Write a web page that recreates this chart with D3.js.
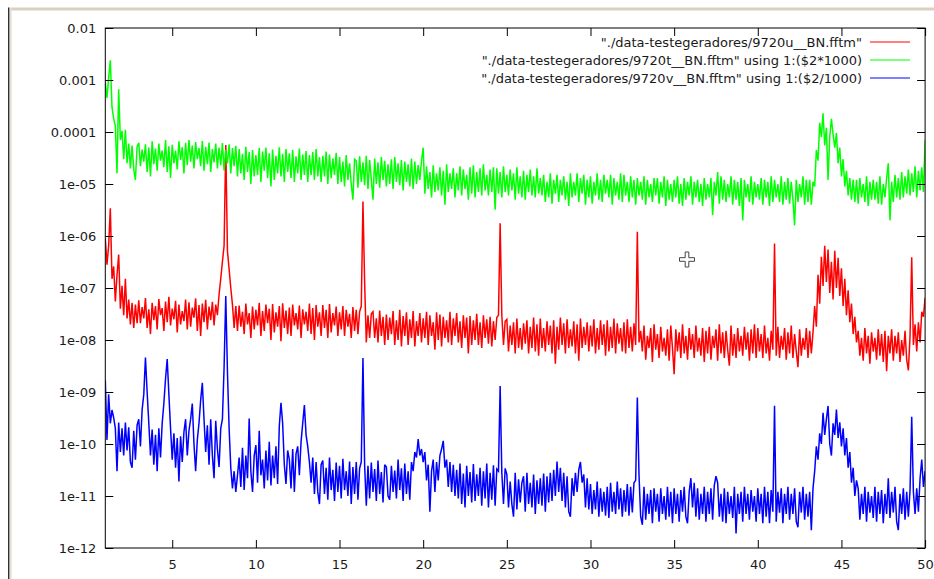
<!DOCTYPE html>
<html>
<head>
<meta charset="utf-8">
<script src="https://cdn.jsdelivr.net/npm/d3@7"></script>
<style>
  html, body { margin: 0; padding: 0; background: #fff; }
  svg { display: block; font-family: "DejaVu Sans", sans-serif; }
</style>
</head>
<body>
<svg id="chart" width="934" height="579"></svg>
<script>
// Spectra sampled every 0.1 from 1.0 to 50.0
const freqStart = 1.0;
const freqStep = 0.1;

const xTicks = [5, 10, 15, 20, 25, 30, 35, 40, 45, 50];
const yTicks = [1e-2, 1e-3, 1e-4, 1e-5, 1e-6, 1e-7, 1e-8, 1e-9, 1e-10, 1e-11, 1e-12];
const yTickLabels = ["0.01", "0.001", "0.0001", "1e-05", "1e-06", "1e-07", "1e-08", "1e-09", "1e-10", "1e-11", "1e-12"];

const seriesNames = [
  "\"./data-testegeradores/9720u__BN.fftm\"",
  "\"./data-testegeradores/9720t__BN.fftm\" using 1:($2*1000)",
  "\"./data-testegeradores/9720v__BN.fftm\" using 1:($2/1000)"
];
const seriesColors = ["#ff0000", "#00ff00", "#0000ff"];

// 9720u, values in units of 1e-9
const uUnit = 1e-9;
const uValues = [
  900, 280, 650, 3400, 150, 260, 55, 180, 440, 40,
  110, 30, 150, 26, 60, 20, 52, 17, 48, 21,
  58, 21, 43, 26, 64, 17, 39, 13, 52, 24,
  45, 16, 61, 30, 41, 15, 55, 22, 68, 19,
  40, 25, 57, 14, 48, 20, 36, 23, 60, 16,
  53, 18, 42, 27, 63, 15, 47, 12, 50, 22,
  59, 16, 44, 24, 54, 19, 48, 30, 75, 150,
  320, 650, 56000, 520, 230, 100, 48, 17, 45, 15,
  46, 18, 35, 13, 50, 20, 33, 11, 44, 16,
  38, 19, 52, 12, 36, 15, 48, 21, 40, 10,
  49, 14, 34, 18, 45, 9.5, 51, 17, 37, 13,
  42, 12, 48, 19, 33, 16, 46, 11, 39, 20,
  35, 15, 50, 13, 41, 10, 47, 18, 34, 12,
  47, 17, 38, 11, 49, 14, 33, 19, 44, 12,
  34, 16, 45, 12, 38, 18, 32, 11, 43, 15,
  38, 13, 35, 45, 4600, 130, 9, 30, 11, 32,
  35, 11, 26, 9, 37, 12, 28, 8, 31, 10,
  27, 13, 36, 8, 24, 10, 38, 7.5, 29, 12,
  34, 8, 25, 11, 36, 7.5, 23, 12, 33, 9,
  26, 11, 35, 8, 30, 12, 22, 6.5, 34, 10,
  31, 7.5, 28, 11, 24, 9, 35, 8, 26, 12,
  33, 9, 23, 7, 30, 11, 27, 5.5, 29, 8,
  24, 10, 32, 8, 22, 7, 30, 11, 25, 8.5,
  28, 7.5, 23, 10, 27, 30, 1750, 30, 8, 23,
  25, 6, 19, 8, 22, 5.5, 26, 7, 17, 6.5,
  21, 8.5, 24, 5.5, 18, 7, 27, 6, 20, 5,
  26, 7, 17, 6, 23, 8, 19, 5.5, 24, 3.5,
  18, 6.5, 27, 8, 21, 5.5, 25, 7, 16, 7.5,
  23, 5.5, 20, 4, 26, 7, 18, 8, 22, 6,
  19, 7.5, 25, 5.5, 17, 6.5, 24, 8, 20, 5,
  24, 6, 18, 7, 26, 5.5, 21, 8.5, 17, 6,
  22, 5.5, 25, 7, 18, 6, 21, 8, 1200, 9,
  15, 6, 19, 4.2, 12, 7, 17, 3.8, 20, 6.5,
  13, 4.5, 18, 6, 11, 5, 16, 4, 19, 7,
  2.2, 16, 6, 14, 4.5, 20, 5.5, 12, 4.2, 17,
  6.5, 13, 4.5, 19, 6, 11, 5, 17, 3.8, 15,
  5.5, 18, 4.2, 12, 7, 16, 4, 20, 5.5, 14,
  4.5, 15, 6.5, 3.2, 19, 5, 13, 4.5, 17, 6,
  12, 5, 18, 6.5, 14, 4, 16, 5.5, 20, 4.5,
  17, 6, 13, 4.5, 19, 5.5, 11, 4, 15, 6.5,
  720, 5, 18, 4.5, 12, 6.5, 17, 4.2, 14, 5.5,
  19, 4.5, 13, 6, 3, 16, 5, 11, 6.5, 17,
  4.5, 15, 5.5, 14, 45, 18, 180, 50, 400, 110,
  650, 130, 550, 80, 320, 60, 520, 100, 380, 70,
  240, 45, 150, 30, 90, 22, 50, 13, 28, 9,
  15, 5, 11, 4, 17, 5.5, 12, 3.5, 14, 6,
  11, 4.2, 16, 5, 13, 3.8, 15, 2.5, 12, 5.5,
  16, 4, 12, 5.5, 14, 3.8, 10, 5, 15, 4.2,
  2.6, 12, 390, 8, 20, 6, 22, 9, 35, 28,
  65
];

// 9720t scaled by 1000, values in units of 1e-6
const tUnit = 1e-6;
const tValues = [
  900, 450, 1100, 2400, 300, 180, 130, 16, 660, 70,
  105, 30, 110, 25, 60, 20, 55, 19, 12, 52,
  62, 22, 46, 27, 58, 17, 50, 14, 66, 24,
  48, 18, 60, 28, 44, 21, 70, 17, 53, 13,
  57, 25, 44, 19, 66, 29, 51, 16, 62, 23,
  70, 27, 55, 20, 64, 30, 49, 22, 67, 18,
  52, 24, 63, 17, 47, 26, 60, 20, 50, 23,
  61, 18, 45, 25, 58, 16, 49, 22, 54, 14,
  47, 16, 38, 12, 52, 17, 41, 10, 45, 14,
  36, 15, 49, 11, 42, 18, 50, 13, 39, 9,
  46, 12, 35, 16, 51, 14, 38, 11, 47, 17,
  39, 13, 45, 11, 34, 16, 48, 12, 37, 15,
  43, 11, 36, 15, 41, 12, 47, 14, 33, 11,
  35, 14, 42, 10, 37, 13, 31, 15, 40, 10,
  33, 11, 27, 9, 36, 12, 25, 10, 5, 30,
  28, 8.5, 34, 11, 26, 9.5, 35, 8, 29, 12,
  5, 31, 10, 26, 8.5, 33, 12, 28, 9, 24,
  10, 30, 8, 33, 11, 25, 9.5, 29, 7.5, 27,
  11, 24, 9, 31, 8, 27, 10, 23, 12, 28,
  50, 6.5, 22, 8, 17, 5.5, 23, 7, 16, 7.5,
  21, 6, 18, 4, 24, 7, 16, 8, 20, 5.5,
  16, 7.5, 22, 6, 19, 8, 15, 5, 21, 6.5,
  23, 5.5, 17, 7, 20, 6, 24, 7.5, 15, 6,
  19, 7, 21, 3.2, 20, 6.5, 17, 5.5, 22, 7,
  15, 6, 19, 7.5, 16, 5, 21, 6.5, 14, 5.5,
  18, 5, 15, 7, 19, 6, 14, 5.5, 20, 6.5,
  13, 6, 15, 4.5, 11, 5.5, 16, 4.2, 12, 6.5,
  15, 4.5, 12, 6, 14, 5, 11, 3.8, 16, 5.5,
  11, 6, 16, 4.5, 13, 6.5, 15, 4, 12, 5.5,
  14, 4.2, 11, 6, 16, 5, 12, 4.5, 15, 6.5,
  12, 5.5, 15, 4, 13, 6, 11, 5, 16, 4.5,
  15, 6, 11, 4.5, 14, 5.5, 12, 4, 13, 6,
  11, 5, 14, 4, 12, 5.5, 10, 4.5, 13, 6,
  13, 4.2, 11, 5.5, 14, 3.8, 12, 5, 10, 4.5,
  12, 5.5, 14, 4.2, 10, 3.8, 13, 5, 11, 6,
  14, 4, 11, 5.5, 12, 4.5, 10, 3.8, 13, 5,
  10, 5.5, 13, 2.5, 11, 6, 17, 4.2, 14, 5,
  12, 4.5, 10, 5.5, 14, 4, 12, 5, 11, 3.8,
  13, 2, 12, 5.5, 10, 4.5, 14, 4, 11, 5.5,
  10, 5, 13, 4, 12, 5.5, 11, 3.8, 14, 4.5,
  12, 5.5, 10, 4.5, 14, 4, 11, 5, 13, 4.2,
  11, 5, 1.6, 12, 4.5, 10, 5.5, 14, 4, 12,
  4.5, 12, 4, 11, 9, 45, 28, 150, 80, 230,
  55, 120, 12, 80, 180, 90, 50, 95, 25, 50,
  14, 30, 9, 18, 6, 13, 5, 12, 4.5, 12,
  4.2, 13, 5.5, 10, 4.5, 14, 3.8, 11, 5, 12,
  5, 11, 4.2, 14, 4, 10, 5.5, 13, 25, 2,
  11, 4.5, 15, 5.5, 13, 5, 17, 5.5, 14, 6.5,
  19, 6, 16, 7, 22, 5.5, 18, 7.5, 21, 7,
  70
];

// 9720v scaled by 1/1000, values in units of 1e-12
const vUnit = 1e-12;
const vValues = [
  1700, 120, 900, 250, 450, 320, 200, 30, 260, 70,
  200, 60, 260, 75, 210, 45, 35, 180, 50, 230,
  300, 90, 450, 900, 4600, 1000, 250, 60, 190, 40,
  150, 30, 200, 55, 250, 600, 1800, 4300, 900, 200,
  50, 160, 35, 130, 19, 140, 45, 170, 300, 60,
  180, 300, 600, 100, 30, 120, 250, 700, 1500, 300,
  70, 230, 40, 300, 60, 22, 280, 80, 36, 200,
  300, 3000, 70000, 2500, 200, 35, 14, 30, 12, 25,
  55, 15, 85, 13, 60, 22, 310, 30, 12, 60,
  95, 18, 180, 25, 50, 14, 75, 20, 110, 16,
  60, 22, 90, 17, 220, 620, 250, 40, 17, 75,
  50, 14, 80, 12, 65, 90, 25, 110, 250, 560,
  150, 90, 45, 18, 55, 11, 45, 12, 7, 40,
  48, 11, 35, 8.5, 55, 13, 32, 8, 44, 12,
  38, 9, 52, 13, 30, 10, 46, 7, 36, 11,
  45, 8.5, 34, 45, 4500, 40, 6.5, 38, 9, 44,
  12, 33, 8, 48, 11, 29, 7.5, 40, 36, 10,
  8.5, 38, 12, 31, 9, 50, 13, 34, 8, 42,
  11, 30, 8.5, 45, 30, 70, 55, 125, 60, 80,
  45, 70, 20, 40, 5, 30, 50, 12, 45, 20,
  60, 80, 115, 35, 50, 15, 45, 12, 40, 10,
  32, 9, 42, 7, 27, 6, 38, 10, 29, 7.5,
  41, 8, 26, 10, 35, 6.5, 30, 9, 42, 6,
  28, 8.5, 39, 6.5, 33, 30, 1300, 28, 7, 34,
  26, 6, 19, 7, 4, 28, 5.5, 21, 7.5, 18,
  24, 5, 28, 7, 18, 6, 26, 4.5, 20, 7,
  22, 6.5, 27, 5, 24, 7.5, 28, 8, 32, 10,
  46, 12, 35, 8, 28, 6, 24, 5, 4, 22,
  10, 28, 12, 32, 45, 18, 26, 6, 22, 5.5,
  17, 4.5, 13, 5.5, 19, 4, 14, 5, 12, 4.2,
  15, 3.8, 18, 5, 12, 4.5, 19, 5.5, 14, 4,
  13, 5, 17, 4.2, 15, 4.8, 18, 20, 780, 25,
  4, 2.8, 15, 3.5, 11, 4.5, 13, 3, 14, 5,
  11, 3.2, 14, 4.5, 10, 3.5, 15, 4, 12, 3,
  14, 4.5, 11, 3.2, 13, 5, 15, 4, 3, 12,
  22, 6, 18, 4, 14, 3.5, 11, 4.5, 15, 3.2,
  12, 4.5, 14, 3.5, 16, 24, 18, 4, 11, 3.2,
  14, 3, 12, 4.5, 10, 3.8, 15, 1.9, 11, 4.5,
  12, 3.2, 15, 4.5, 11, 3.5, 13, 5, 10, 3.2,
  14, 4.5, 11, 3, 15, 4, 12, 3, 13, 5,
  545, 3.2, 12, 4.8, 14, 3, 11, 4.5, 15, 3.5,
  11, 4.5, 14, 3.2, 2.5, 12, 4.8, 15, 3.5, 11,
  4, 12, 2.2, 14, 30, 90, 50, 160, 100, 400,
  150, 300, 540, 100, 60, 250, 150, 460, 130, 260,
  90, 200, 60, 130, 35, 70, 18, 35, 10, 20,
  14, 3.5, 11, 4.5, 15, 3.2, 12, 4.8, 10, 3.8,
  15, 3.2, 12, 4.5, 13, 3, 11, 4.5, 22, 3.8,
  12, 4.8, 15, 3.2, 2.2, 11, 4.5, 14, 3.5, 12,
  4, 13, 335, 12, 4.5, 14, 5, 22, 50, 15,
  30
];

// ---- layout ----
const W = 934, H = 579;
const plot = { left: 105.3, right: 925.1, top: 28, bottom: 548 };

const svg = d3.select("#chart");

// window frame around the plot canvas
svg.append("rect").attr("x", 11).attr("y", 7.5).attr("width", W - 11).attr("height", 3).attr("fill", "#dccfc2");
svg.append("rect").attr("x", 8).attr("y", 7.5).attr("width", 1.6).attr("height", H - 7.5).attr("fill", "#2f2f38");
svg.append("rect").attr("x", 9.6).attr("y", 7.5).attr("width", 2).attr("height", H - 7.5).attr("fill", "#e6ddd3");

const x = d3.scaleLinear().domain([1, 50]).range([plot.left, plot.right]);
const y = d3.scaleLog().domain([1e-12, 1e-2]).range([plot.bottom, plot.top]);

const freqs = uValues.map((_, i) => +(freqStart + i * freqStep).toFixed(1));

const series = [
  { values: uValues, unit: uUnit },
  { values: tValues, unit: tUnit },
  { values: vValues, unit: vUnit }
].map((s, k) => ({
  name: seriesNames[k],
  color: seriesColors[k],
  points: s.values.map((v, i) => [freqs[i], v * s.unit])
}));

svg.append("defs").append("clipPath").attr("id", "plotClip")
  .append("rect")
  .attr("x", plot.left).attr("y", plot.top)
  .attr("width", plot.right - plot.left).attr("height", plot.bottom - plot.top);

const line = d3.line().x(d => x(d[0])).y(d => y(d[1]));

const traces = svg.append("g").attr("clip-path", "url(#plotClip)");
series.forEach(s => {
  traces.append("path")
    .datum(s.points)
    .attr("d", line)
    .attr("fill", "none")
    .attr("stroke", s.color)
    .attr("stroke-width", 1.5)
    .attr("stroke-linejoin", "miter")
    .attr("stroke-miterlimit", 3);
});

// ---- axes (gnuplot style: inward ticks mirrored on the opposite side) ----
const tickLen = 8;
const axisColor = "#000";
const fontSize = "13px";

const axes = svg.append("g");

const bottomAxis = d3.axisBottom(x).tickValues(xTicks).tickSize(-tickLen).tickPadding(12).tickFormat(d3.format("d"));
const topAxis = d3.axisTop(x).tickValues(xTicks).tickSize(-tickLen).tickFormat("");
const leftAxis = d3.axisLeft(y).tickValues(yTicks).tickSize(-tickLen).tickPadding(9)
  .tickFormat((d, i) => yTickLabels[i]);
const rightAxis = d3.axisRight(y).tickValues(yTicks).tickSize(-tickLen).tickFormat("");

function styleAxis(g) {
  g.select(".domain").remove();
  g.selectAll(".tick line").attr("stroke", axisColor);
  g.selectAll(".tick text").attr("fill", "#1a1a1a").style("font-size", fontSize)
    .style("font-family", "'DejaVu Sans', sans-serif");
}

axes.append("g").attr("transform", `translate(0,${plot.bottom})`).call(bottomAxis).call(styleAxis);
axes.append("g").attr("transform", `translate(0,${plot.top})`).call(topAxis).call(styleAxis);
axes.append("g").attr("transform", `translate(${plot.left},0)`).call(leftAxis).call(styleAxis);
axes.append("g").attr("transform", `translate(${plot.right},0)`).call(rightAxis).call(styleAxis);

// plot border
svg.append("rect")
  .attr("x", plot.left).attr("y", plot.top)
  .attr("width", plot.right - plot.left).attr("height", plot.bottom - plot.top)
  .attr("fill", "none").attr("stroke", axisColor).attr("stroke-width", 1);

// ---- key ----
const key = svg.append("g");
const keyTextRight = 862, keyLineX0 = 870, keyLineX1 = 910, keyTop = 42, keyRow = 18;
series.forEach((s, i) => {
  const yy = keyTop + i * keyRow;
  key.append("text")
    .attr("x", keyTextRight).attr("y", yy).attr("dy", "0.35em")
    .attr("text-anchor", "end")
    .attr("fill", "#1a1a1a")
    .style("font-size", fontSize)
    .text(s.name);
  key.append("line")
    .attr("x1", keyLineX0).attr("x2", keyLineX1)
    .attr("y1", yy).attr("y2", yy)
    .attr("stroke", s.color).attr("stroke-width", 1);
});

// mouse pointer left on the canvas (crosshair cursor)
const cx = 687, cy = 259.5, arm = 7.5, half = 1.8;
svg.append("path")
  .attr("d", `M${cx - half},${cy - arm}H${cx + half}V${cy - half}H${cx + arm}V${cy + half}H${cx + half}V${cy + arm}H${cx - half}V${cy + half}H${cx - arm}V${cy - half}H${cx - half}Z`)
  .attr("fill", "#fff").attr("stroke", "#444").attr("stroke-width", 1);
</script>
</body>
</html>
